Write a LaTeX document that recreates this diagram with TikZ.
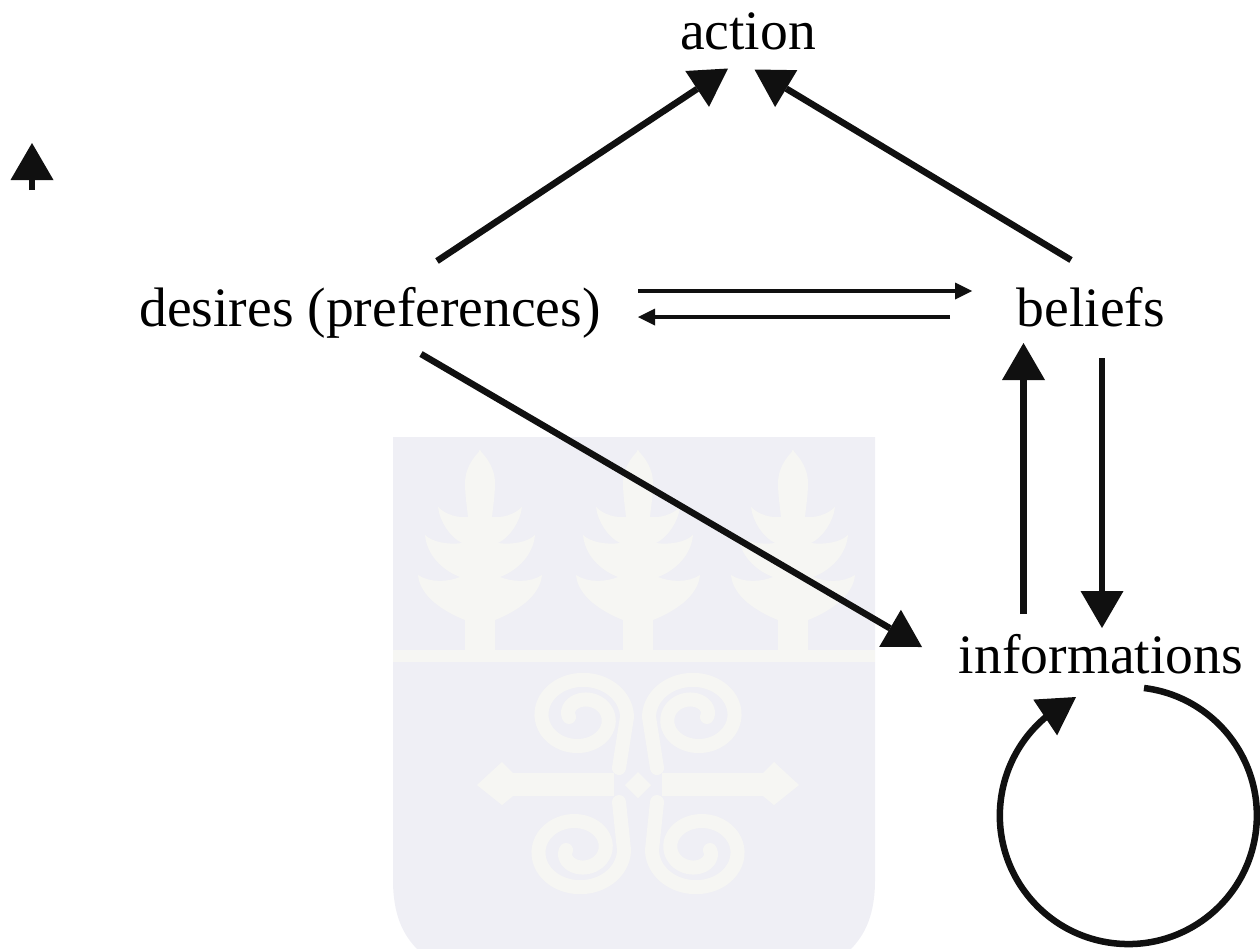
\documentclass[tikz,border=0pt]{standalone}
\usepackage{fontspec}
\setmainfont{Liberation Serif}
\usetikzlibrary{arrows.meta}
\definecolor{shieldbg}{HTML}{EFEFF5}
\definecolor{shieldfg}{HTML}{F6F6F3}
\definecolor{inkblack}{HTML}{101010}
\tikzset{
  label/.style={inner sep=0pt,outer sep=0pt,anchor=base,text=black,font=\fontsize{55.6}{60}\selectfont},
  bigarrow/.style={draw=inkblack,line width=6.5pt,-{Triangle[length=37pt,width=43pt,line width=0pt,fill=inkblack]}},
  thinarrow/.style={draw=inkblack,line width=3.3pt,-{Triangle[length=17pt,width=17pt,line width=0pt,fill=inkblack]}},
  orn/.style={draw=shieldfg,line width=14pt,line cap=round},
}
\begin{document}
\begin{tikzpicture}[x=1pt,y=-1pt]
\useasboundingbox (0,0) rectangle (1260,948);
% watermark shield
\fill[shieldbg] (393,437) -- (875,437) -- (875,880) .. controls (875,915) and (865,935) .. (850,950) -- (418,950) .. controls (403,935) and (393,915) .. (393,880) -- cycle;
\fill[shieldfg] (393,650) rectangle (875,662);
\foreach \cx in {480,638,793}{
  \foreach \m in {1,-1}{
    \begin{scope}[shift={(\cx,0)},xscale=\m]
      \fill[shieldfg] (-1,450) .. controls (8,458) and (15,470) .. (15,483)
        .. controls (15,495) and (13,507) .. (12,517)
        .. controls (22,518) and (34,515) .. (42,507)
        .. controls (40,522) and (30,537) .. (18,543)
        .. controls (32,545) and (48,542) .. (55,535)
        .. controls (53,555) and (38,570) .. (20,577)
        .. controls (32,582) and (50,583) .. (62,575)
        .. controls (60,597) and (35,612) .. (15,620)
        -- (15,651) -- (-1,651) -- cycle;
    \end{scope}
  }
}
\foreach \m in {1,-1}{
  \begin{scope}[shift={(638,0)},xscale=\m]
    \draw[orn] (-19,768) -- plot[smooth,domain=0:540,samples=80] ({-57+(10+36*(1-pow(\x/560,1.5)))*cos(\x)},{717-0.85*(10+36*(1-pow(\x/560,1.5)))*sin(\x)});
    \draw[orn] (-19,802) -- plot[smooth,domain=0:540,samples=80] ({-60+(10+36*(1-pow(\x/560,1.5)))*cos(\x)},{850+0.85*(10+36*(1-pow(\x/560,1.5)))*sin(\x)});
    \fill[shieldfg] (-24,773) -- (-125,773) -- (-136,762) -- (-161,785) -- (-136,805) -- (-125,796) -- (-24,796) -- cycle;
  \end{scope}
}
\fill[shieldbg] (638,762) -- (661,785) -- (638,808) -- (615,785) -- cycle;
\fill[shieldfg] (638,772) -- (651,785) -- (638,798) -- (625,785) -- cycle;
% labels
\node[label] (action) at (748,49) {action};
\node[label] (desires) at (370,326) {desires (preferences)};
\node[label] (beliefs) at (1091,326) {beliefs};
\node[label] (informations) at (1101,673) {informations};
% connectors
\draw[bigarrow] ([shift={(67,-65)}]desires.base) -- ([shift={(-20,19.5)}]action.base);
\draw[bigarrow] ([shift={(-20,-66)}]beliefs.base) -- ([shift={(6.5,20.5)}]action.base);
\draw[bigarrow] ([shift={(51,28)}]desires.base) -- ([shift={(-179,-26)}]informations.base);
\draw[bigarrow] ([shift={(-77.5,-59)}]informations.base) -- ([shift={(-67.5,17)}]beliefs.base);
\draw[bigarrow] ([shift={(11,32)}]beliefs.base) -- ([shift={(1,-45)}]informations.base);
\draw[thinarrow] ([shift={(268,-35)}]desires.base) -- ([shift={(-119,-35)}]beliefs.base);
\draw[thinarrow] ([shift={(-141,-9)}]beliefs.base) -- ([shift={(268,-9)}]desires.base);
\draw[bigarrow] ([shift={(43,15)}]informations.base) arc[start angle=-83,end angle=230,radius=128.5] -- ([shift={(-25,24)}]informations.base);
% stray arrow at the left
\coordinate (straytail) at (32,190);
\coordinate (straytip) at (32,143);
\draw[bigarrow] (straytail) -- (straytip);
\end{tikzpicture}
\end{document}
